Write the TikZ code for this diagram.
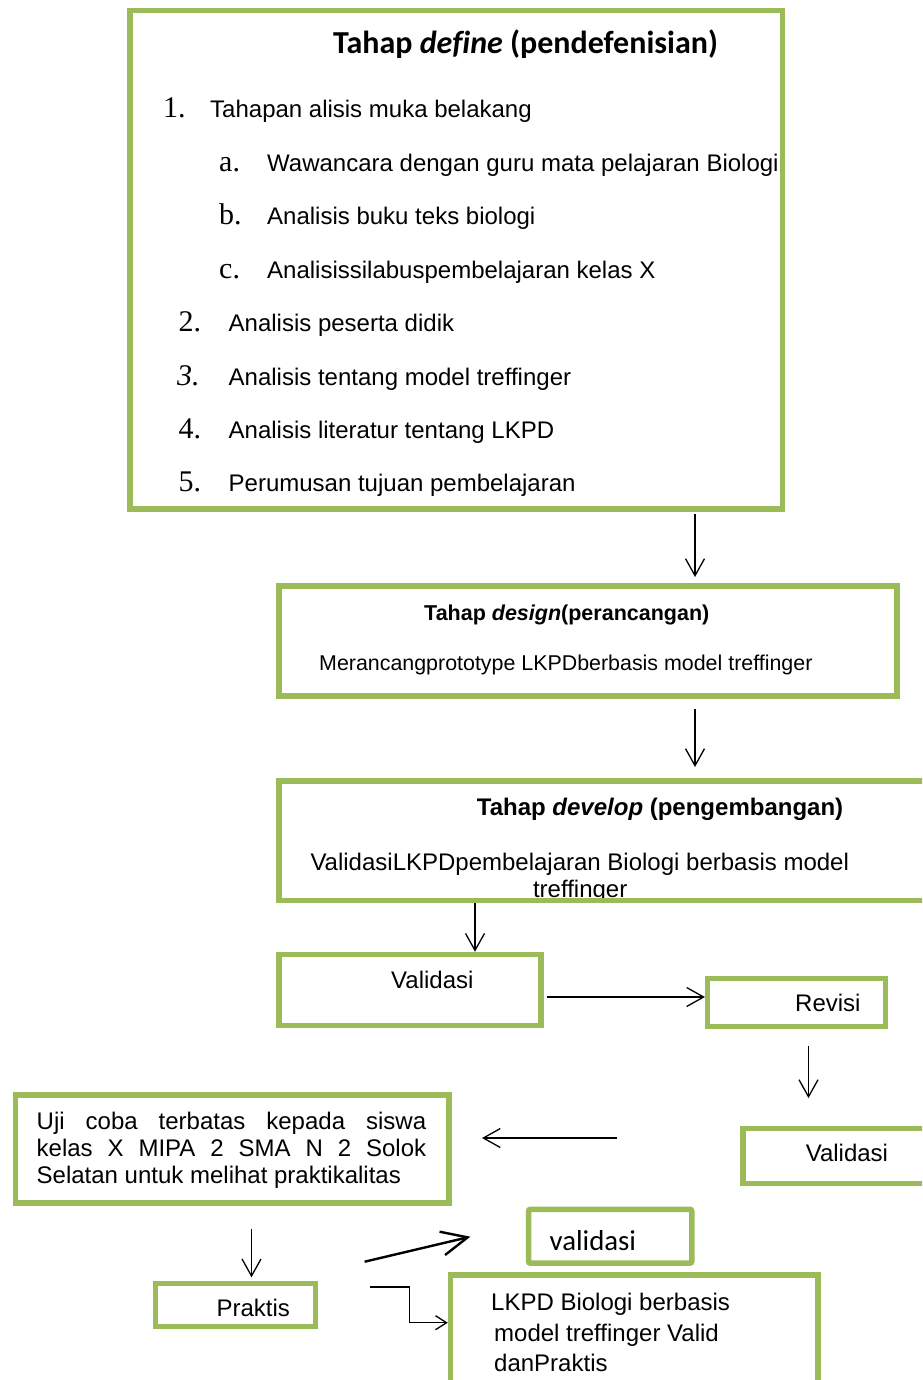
\documentclass[tikz,border=0pt]{standalone}
\usepackage{fontspec}
\setmainfont{Liberation Sans}
\newfontfamily\timesnum{Liberation Serif}
\newfontfamily\calibri[Ligatures=NoCommon]{Carlito}
\usetikzlibrary{arrows.meta}
\definecolor{olivegreen}{HTML}{9BBB59}
\tikzstyle{greenbox}=[draw=olivegreen,line width=5.5pt,inner sep=0pt]
\tikzstyle{txt}=[anchor=base west,inner sep=0pt,font=\fontsize{24}{28}\selectfont]
\tikzstyle{num}=[anchor=base west,inner sep=0pt,font=\timesnum\fontsize{30}{34}\selectfont]
\tikzstyle{arr}=[line width=1.3pt,-{Straight Barb[length=17pt,width=19pt]}]

\begin{document}
\begin{tikzpicture}[x=1pt,y=-1pt]
\useasboundingbox (0,0) rectangle (922,1380);
\clip (0,0) rectangle (922,1380);

% texts
\node[txt,font=\calibri\bfseries\fontsize{32}{36}\selectfont] (tdefine) at (333,53.3) {Tahap \textit{define} (pendefenisian)};
\node[num] (n1) at (163,118) {1.};
\node[txt] (i1) at (210,118) {Tahapan alisis muka belakang};
\node[num] (na) at (219,171.5) {a.};
\node[txt] (ia) at (267,171.5) {Wawancara dengan guru mata pelajaran Biologi};
\node[num] (nb) at (219,224.8) {b.};
\node[txt] (ib) at (267,224.8) {Analisis buku teks biologi};
\node[num] (nc) at (219,278.2) {c.};
\node[txt] (ic) at (267,278.2) {Analisissilabuspembelajaran kelas X};
\node[num] (n2) at (178.5,331.5) {2.};
\node[txt] (i2) at (228.5,331.5) {Analisis peserta didik};
\node[num] (n3) at (177,385) {\itshape 3.};
\node[txt] (i3) at (228.5,385) {Analisis tentang model treffinger};
\node[num] (n4) at (178.5,438.3) {4.};
\node[txt] (i4) at (228.5,438.3) {Analisis literatur tentang LKPD};
\node[num] (n5) at (178.5,491.6) {5.};
\node[txt] (i5) at (228.5,491.6) {Perumusan tujuan pembelajaran};

\node[txt,font=\bfseries\fontsize{21.5}{25}\selectfont] (tdesign) at (424,620) {Tahap \textit{design}(perancangan)};
\node[txt,font=\fontsize{21.4}{26}\selectfont] (ddesign) at (319,670) {Merancangprototype LKPDberbasis model treffinger};

\node[txt,font=\bfseries\fontsize{24}{28}\selectfont] (tdevelop) at (476.7,815) {Tahap \textit{develop} (pengembangan)};
\node[txt] (ddevelop) at (310.3,870) {ValidasiLKPDpembelajaran Biologi berbasis model};
\node[txt] (ddevelopb) at (532.8,897) {treffinger};

\node[txt] (tval1) at (391,988) {Validasi};
\node[txt] (trev) at (795,1011.7) {Revisi};
\node[txt] (tval2) at (805.6,1161) {Validasi};
\node[txt] (uji1) at (36.5,1129.3) {\makebox[389.5pt][s]{Uji coba terbatas kepada siswa}};
\node[txt] (uji2) at (36.5,1156.7) {\makebox[389.5pt][s]{kelas X MIPA 2 SMA N 2 Solok}};
\node[txt] (uji3) at (36.5,1183) {Selatan untuk melihat praktikalitas};
\node[txt,font=\calibri\fontsize{28.8}{32}\selectfont] (tval3) at (549.5,1250) {validasi};
\node[txt] (tprak) at (216.4,1316.7) {Praktis};
\node[txt] (lkpd1) at (491,1310) {LKPD Biologi berbasis};
\node[txt] (lkpd2) at (494,1341.7) {model treffinger Valid};
\node[txt] (lkpd3) at (494,1371.7) {danPraktis};

% boxes
\node[greenbox,minimum width=652.5,minimum height=498.7] (define) at (456.25,259.65) {};
\node[greenbox,minimum width=618.2,minimum height=110] (design) at (587.9,641) {};
\node[greenbox,minimum width=661,minimum height=119.5] (develop) at (609.5,840.75) {};
\node[greenbox,minimum width=262,minimum height=71] (validasi) at (410,990) {};
\node[greenbox,minimum width=178,minimum height=48] (revisi) at (796.7,1002.5) {};
\node[greenbox,minimum width=197,minimum height=55.2] (validasiulang) at (841.5,1155.9) {};
\node[greenbox,minimum width=433.4,minimum height=108.2] (ujicoba) at (232.3,1149.1) {};
\node[greenbox,rounded corners=2pt,minimum width=163.3,minimum height=53.9] (validasikecil) at (610.15,1236.25) {};
\node[greenbox,minimum width=160.2,minimum height=43] (praktis) at (235.4,1304.8) {};
\node[greenbox,minimum width=367.5,minimum height=125] (lkpd) at (634.25,1337.5) {};

% arrows
\coordinate (xa) at (695,0);
\coordinate (xb) at (475,0);
\coordinate (yc) at (0,997);
\coordinate (xd) at (808.5,0);
\coordinate (ye) at (0,1138);
\coordinate (xf) at (251.5,0);
\coordinate (bend) at (409.8,1322.7);

\draw[arr,shorten <=2.25pt,shorten >=6.25pt] (define.south -| xa) -- (design.north -| xa);
\draw[arr,shorten <=10.25pt,shorten >=11.25pt] (design.south -| xa) -- (develop.north -| xa);
\draw[arr] (develop.south -| xb) -- (validasi.north -| xb);
\draw[arr,shorten <=2.75pt] (validasi.east |- yc) -- (revisi.west |- yc);
\draw[arr,shorten <=16.75pt,shorten >=27.5pt] (revisi.south -| xd) -- (validasiulang.north -| xd);
\draw[arr,shorten <=123.25pt,shorten >=30.25pt] (validasiulang.west |- ye) -- (ujicoba.east |- ye);
\draw[arr,shorten <=23pt,shorten >=3.25pt] (ujicoba.south -| xf) -- (praktis.north -| xf);
\draw[line width=2.4pt,-{Straight Barb[length=26pt,width=24pt]}] ([shift={(46.35,-18.85)}]praktis.north east) -- ([shift={(-55.35,-29.25)}]validasikecil.south west);
\draw[line width=1.3pt,-{Straight Barb[length=11pt,width=14pt]}] ([shift={(52.15,-17.8)}]praktis.east) -| (bend) -- (lkpd.west |- bend);
\end{tikzpicture}
\end{document}
